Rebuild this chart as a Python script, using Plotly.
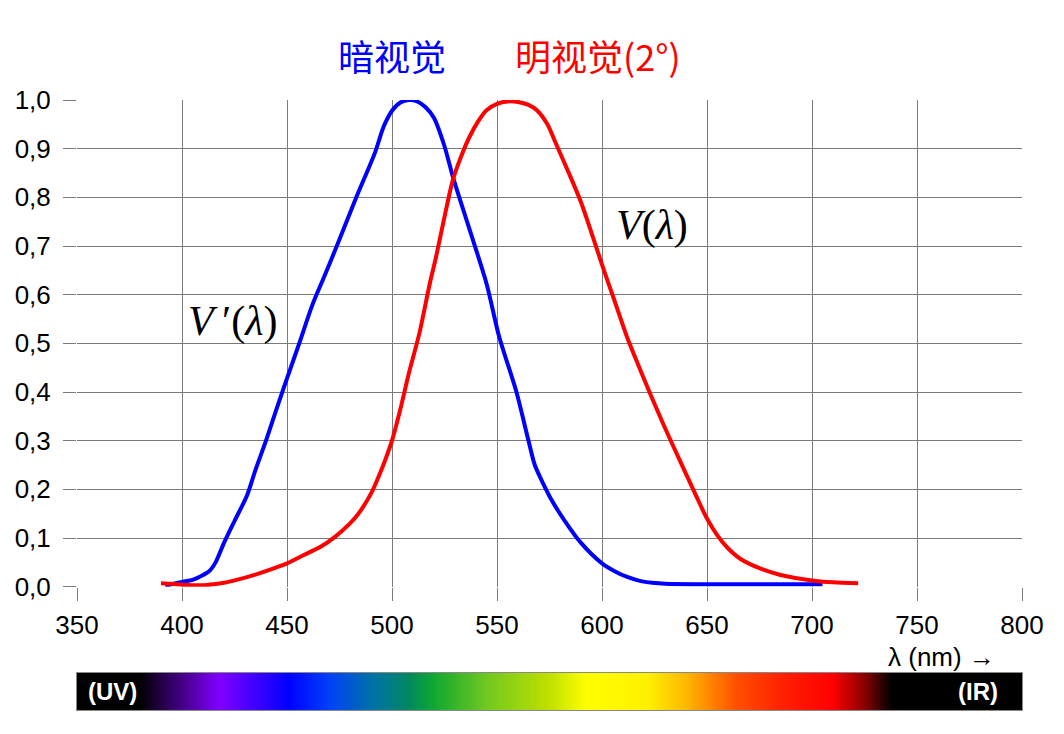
"""
明视觉 / 暗视觉 光谱光视效率曲线
"""

import numpy as np
import plotly.graph_objects as go

# 暗视觉 V'(λ)
scot_nm = [392, 396, 400, 405, 410, 413, 416, 420, 425, 431, 435, 440, 445, 450,
           456, 462, 468, 474, 483, 492, 496, 500, 504, 508, 512, 516, 520, 525,
           529, 537, 545, 551, 559, 565, 568, 572, 576, 582, 590, 600, 606, 612,
           618, 624, 630, 650, 680, 705]
scot_val = [0.002, 0.006, 0.010, 0.014, 0.024, 0.032, 0.050, 0.090, 0.135, 0.188,
            0.240, 0.300, 0.365, 0.428, 0.502, 0.578, 0.640, 0.703, 0.800, 0.893,
            0.945, 0.978, 0.995, 1.000, 0.997, 0.985, 0.963, 0.905, 0.842, 0.733,
            0.623, 0.514, 0.404, 0.300, 0.250, 0.212, 0.178, 0.137, 0.090, 0.048,
            0.032, 0.020, 0.012, 0.008, 0.006, 0.005, 0.005, 0.005]

# 明视觉 V(λ)
phot_nm = [390, 395, 400, 405, 410, 415, 420, 426, 435, 442, 450, 458, 466, 473,
           480, 484, 488, 491, 494, 497, 500, 504, 508, 513, 518, 521, 525, 529,
           533, 537, 541, 545, 550, 555, 560, 565, 569, 574, 578, 585, 590, 595,
           600, 606, 612, 618, 623, 629, 634, 640, 645, 650, 655, 660, 666, 675,
           685, 692, 700, 710, 722]
phot_val = [0.007, 0.006, 0.004, 0.003, 0.003, 0.005, 0.008, 0.014, 0.025, 0.035,
            0.048, 0.065, 0.082, 0.103, 0.130, 0.150, 0.176, 0.200, 0.230, 0.263,
            0.300, 0.365, 0.438, 0.520, 0.623, 0.678, 0.760, 0.836, 0.885, 0.925,
            0.956, 0.979, 0.992, 0.997, 0.996, 0.990, 0.979, 0.950, 0.911, 0.842,
            0.790, 0.727, 0.662, 0.587, 0.512, 0.448, 0.396, 0.336, 0.288, 0.232,
            0.185, 0.140, 0.105, 0.079, 0.057, 0.038, 0.024, 0.018, 0.013, 0.009,
            0.007]

# 光谱色条
spec_nm = [350, 380, 418, 451, 470, 490, 508, 520, 545, 575, 593, 622, 640,
           664, 686, 710, 726, 738, 800]
spec_col = ['#000000', '#000000', '#8000ff', '#0000ff', '#0040f8', '#0070a8',
            '#008860', '#10a830', '#70c820', '#c0e000', '#ffff00', '#fff000',
            '#ffb800', '#ff5000', '#ff2000', '#ff0000', '#800000', '#000000',
            '#000000']

x_ticks = [350, 400, 450, 500, 550, 600, 650, 700, 750, 800]
y_ticks = [0.0, 0.1, 0.2, 0.3, 0.4, 0.5, 0.6, 0.7, 0.8, 0.9, 1.0]

grid = '#7a7a7a'
font = 'Liberation Sans, Arial, sans-serif'
serif = 'Liberation Serif, DejaVu Serif, serif'
cjk = 'Noto Sans CJK SC'

colorscale = [[(w - 350) / 450, c] for w, c in zip(spec_nm, spec_col)]
bar_nm = np.arange(350, 801)

fig = go.Figure()

fig.add_trace(go.Scatter(x=scot_nm, y=scot_val, mode='lines',
                         line=dict(color='#0000ff', width=4, shape='spline', smoothing=0.8),
                         cliponaxis=False))
fig.add_trace(go.Scatter(x=phot_nm, y=phot_val, mode='lines',
                         line=dict(color='#ff0000', width=4, shape='spline', smoothing=0.8),
                         cliponaxis=False))

fig.add_trace(go.Heatmap(x=bar_nm, y=[0.5], z=[bar_nm], colorscale=colorscale,
                         zmin=350, zmax=800, showscale=False, hoverinfo='skip',
                         xaxis='x2', yaxis='y2'))

# 页面 body 有 8px 边距, 边距相应扣除
fig.update_layout(
    width=1064, height=734,
    margin=dict(l=69, r=50, t=92, b=32),
    plot_bgcolor='white', paper_bgcolor='white',
    showlegend=False,
    separators=',.',
    xaxis=dict(range=[350, 800], tickvals=x_ticks, showgrid=True, gridcolor=grid,
               gridwidth=1, zeroline=False, ticks='outside', ticklen=13,
               tickcolor=grid, ticklabelstandoff=2, automargin=False,
               tickfont=dict(family=font, size=26, color='black'),
               showline=False, domain=[0, 1], anchor='y'),
    yaxis=dict(range=[0, 1], tickvals=y_ticks, tickformat='.1f', showgrid=True,
               gridcolor=grid, gridwidth=1, zeroline=False, ticks='outside',
               ticklen=13, tickcolor=grid, ticklabelstandoff=7, automargin=False,
               tickfont=dict(family=font, size=26, color='black'),
               showline=False, domain=[0.2021, 1], anchor='x'),
    xaxis2=dict(range=[350, 800], domain=[0, 1], anchor='y2', showticklabels=False,
                showgrid=False, zeroline=False, showline=True, mirror=True,
                linecolor='#888888', linewidth=1, automargin=False),
    yaxis2=dict(range=[0, 1], domain=[0, 0.0607], anchor='x2', showticklabels=False,
                showgrid=False, zeroline=False, showline=True, mirror=True,
                linecolor='#888888', linewidth=1, automargin=False),
)

fig.add_annotation(x=500, y=1.074, xref='x', yref='paper', text='暗视觉',
                   showarrow=False, yanchor='middle',
                   font=dict(family=cjk, size=36, color='#0000ff'))
fig.add_annotation(x=598, y=1.074, xref='x', yref='paper', text='明视觉(2°)',
                   showarrow=False, yanchor='middle',
                   font=dict(family=cjk, size=36, color='#ff0000'))

fig.add_annotation(x=424, y=0.544, xref='x', yref='y',
                   text='<i>V</i>\u2009′(<i>λ</i>)',
                   showarrow=False, font=dict(family=serif, size=42, color='black'))
fig.add_annotation(x=623.8, y=0.743, xref='x', yref='y', text='<i>V</i>(<i>λ</i>)',
                   showarrow=False, font=dict(family=serif, size=42, color='black'))

fig.add_annotation(x=788, y=0.0869, xref='x', yref='paper', text='λ (nm) →',
                   showarrow=False, xanchor='right', yanchor='middle',
                   font=dict(family=font, size=26, color='black'))

fig.add_annotation(x=366.7, y=0.5, xref='x2', yref='y2', text='<b>(UV)</b>',
                   showarrow=False, font=dict(family=font, size=24, color='white'))
fig.add_annotation(x=779, y=0.5, xref='x2', yref='y2', text='<b>(IR)</b>',
                   showarrow=False, font=dict(family=font, size=24, color='white'))

fig.write_html('out.html')
